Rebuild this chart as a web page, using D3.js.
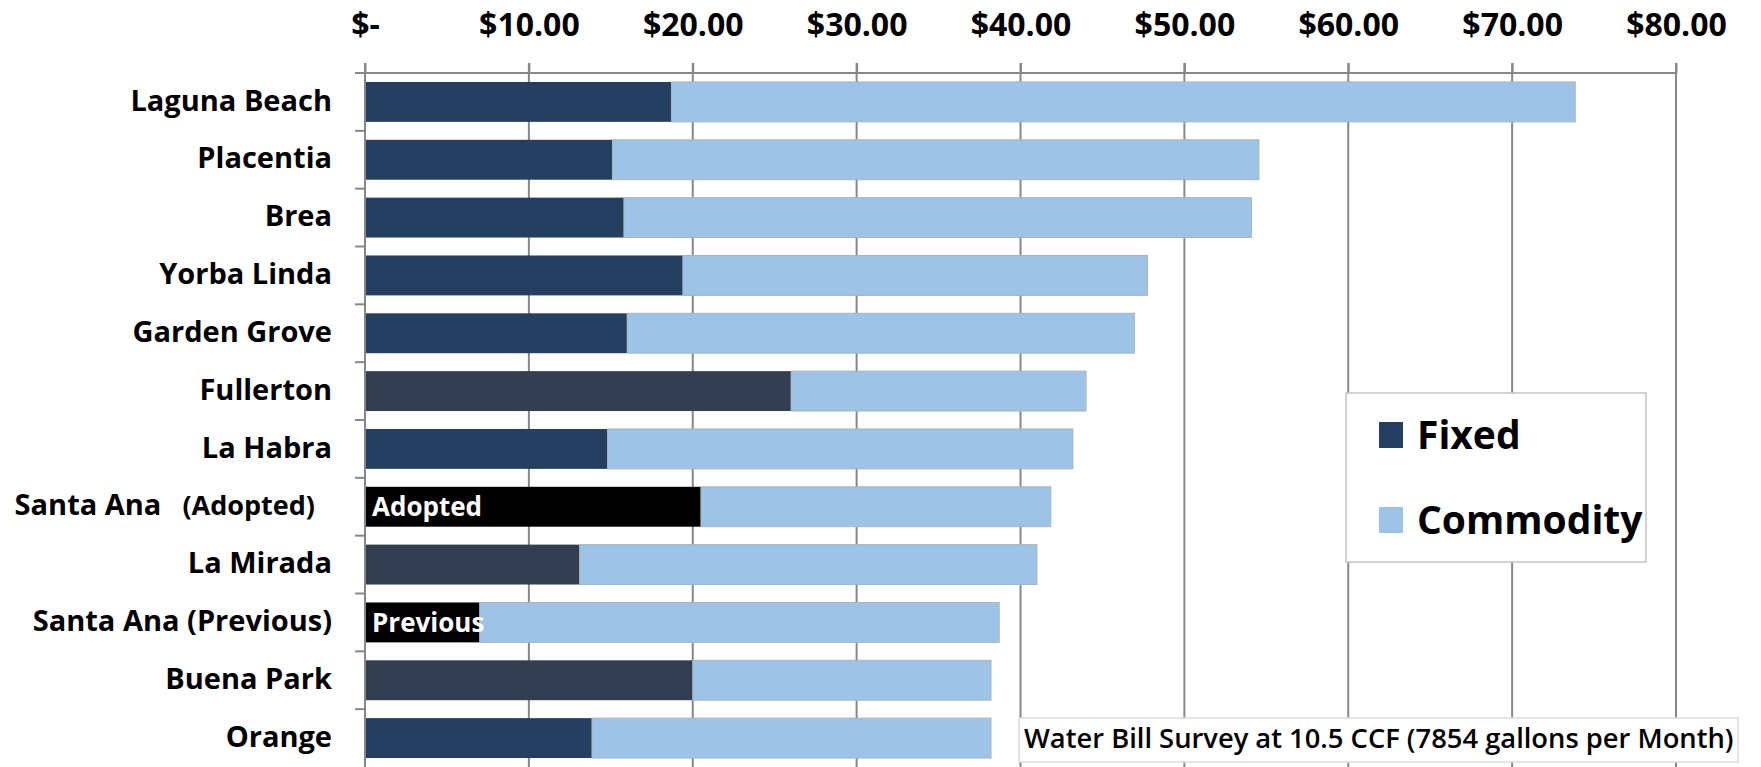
<!DOCTYPE html>
<html>
<head>
<meta charset="utf-8">
<script src="https://cdn.jsdelivr.net/npm/d3@7"></script>
<style>
  body { margin: 0; background: #fff; }
  text { font-family: "Open Sans", sans-serif; }
</style>
</head>
<body>
<script>
var categories = ["Laguna Beach", "Placentia", "Brea", "Yorba Linda", "Garden Grove", "Fullerton",
                  "La Habra", "Santa Ana (Adopted)", "La Mirada", "Santa Ana (Previous)", "Buena Park", "Orange"];
var fixedCharge = [18.7, 15.1, 15.8, 19.4, 16.0, 26.0, 14.8, 20.5, 13.1, 7.0, 20.0, 13.85];
var commodityCharge = [55.15, 39.45, 38.3, 28.35, 30.95, 18.0, 28.4, 21.35, 27.9, 31.7, 18.2, 24.35];
var tickValues = [0, 10, 20, 30, 40, 50, 60, 70, 80];
var tickLabels = ["$-", "$10.00", "$20.00", "$30.00", "$40.00", "$50.00", "$60.00", "$70.00", "$80.00"];
var seriesNames = ["Fixed", "Commodity"];
var barNotes = { "Santa Ana (Adopted)": "Adopted", "Santa Ana (Previous)": "Previous" };
var footNote = "Water Bill Survey at 10.5 CCF (7854 gallons per Month)";

(function() {
    var w = 1761, h = 767;
    var mLeft = 365, mRight = 1676, mTop = 73, mBottom = 767;

    var navy = "#243f60", slate = "#333f50", lightBlue = "#9dc3e6", gridGrey = "#878787";
    var slateCities = ["Fullerton", "La Mirada", "Buena Park"];

    function fixedColor(c) {
        if (barNotes[c]) { return "#000"; }
        if (slateCities.indexOf(c) >= 0) { return slate; }
        return navy;
    }

    var svg = d3.select("body").append("svg")
        .attr("width", w)
        .attr("height", h);

    var x = d3.scaleLinear().domain([0, 80]).range([mLeft, mRight]);
    var y = d3.scaleBand().domain(categories).range([mTop, mBottom])
        .paddingInner(0.31).paddingOuter(0.155);

    // vertical gridlines (behind bars)
    svg.selectAll("line.grid")
        .data(tickValues.slice(1))
        .enter().append("line")
        .attr("class", "grid")
        .attr("x1", function(d) { return x(d); })
        .attr("x2", function(d) { return x(d); })
        .attr("y1", mTop - 10)
        .attr("y2", mBottom)
        .attr("stroke", gridGrey)
        .attr("stroke-width", 2);

    var rows = categories.map(function(c, i) {
        return { name: c, fixed: fixedCharge[i], commodity: commodityCharge[i] };
    });

    // fixed part
    svg.selectAll("rect.fixed")
        .data(rows)
        .enter().append("rect")
        .attr("class", "fixed")
        .attr("x", x(0))
        .attr("y", function(d) { return y(d.name); })
        .attr("width", function(d) { return x(d.fixed) - x(0); })
        .attr("height", y.bandwidth())
        .attr("fill", function(d) { return fixedColor(d.name); });

    // commodity part stacked after fixed
    svg.selectAll("rect.commodity")
        .data(rows)
        .enter().append("rect")
        .attr("class", "commodity")
        .attr("x", function(d) { return x(d.fixed); })
        .attr("y", function(d) { return y(d.name); })
        .attr("width", function(d) { return x(d.fixed + d.commodity) - x(d.fixed); })
        .attr("height", y.bandwidth())
        .attr("fill", lightBlue)
        .attr("stroke", "#a8b4c0")
        .attr("stroke-width", 1);

    // notes inside the Santa Ana bars
    svg.selectAll("text.barnote")
        .data(rows.filter(function(d) { return barNotes[d.name]; }))
        .enter().append("text")
        .attr("class", "barnote")
        .attr("x", x(0) + 7)
        .attr("y", function(d) { return y(d.name) + y.bandwidth() / 2; })
        .attr("dy", "0.36em")
        .attr("fill", "#fff")
        .attr("font-size", 26)
        .attr("font-weight", 700)
        .text(function(d) { return barNotes[d.name]; });

    // top axis
    var xAxis = d3.axisTop(x)
        .tickValues(tickValues)
        .tickSize(10)
        .tickPadding(27)
        .tickFormat(function(d, i) { return tickLabels[i]; });

    var gx = svg.append("g")
        .attr("transform", "translate(0," + mTop + ")")
        .call(xAxis);
    gx.select(".domain").remove();
    gx.selectAll(".tick line").attr("stroke", gridGrey).attr("stroke-width", 2);
    gx.selectAll(".tick text")
        .attr("fill", "#000")
        .attr("font-size", 32)
        .attr("font-weight", 700)
        .style("font-family", "'Open Sans', sans-serif");

    svg.append("line")
        .attr("x1", mLeft - 10).attr("x2", mRight)
        .attr("y1", mTop).attr("y2", mTop)
        .attr("stroke", gridGrey).attr("stroke-width", 2);

    // left axis: ticks on category boundaries
    var step = y.step();
    var boundaries = categories.map(function(c) { return y(c) - step * y.paddingInner() / 2; });
    svg.selectAll("line.ytick")
        .data(boundaries)
        .enter().append("line")
        .attr("x1", mLeft - 10).attr("x2", mLeft)
        .attr("y1", function(d) { return d; })
        .attr("y2", function(d) { return d; })
        .attr("stroke", gridGrey).attr("stroke-width", 2);

    svg.append("line")
        .attr("x1", mLeft).attr("x2", mLeft)
        .attr("y1", mTop - 10).attr("y2", mBottom)
        .attr("stroke", gridGrey).attr("stroke-width", 2);

    // category labels
    var labels = svg.selectAll("text.cat")
        .data(categories)
        .enter().append("text")
        .attr("class", "cat")
        .attr("text-anchor", "end")
        .attr("x", function(d) { return d === "Santa Ana (Adopted)" ? mLeft - 50 : mLeft - 33; })
        .attr("y", function(d) { return y(d) + y.bandwidth() / 2; })
        .attr("dy", "0.3em")
        .attr("font-size", 29)
        .attr("font-weight", 700)
        .attr("fill", "#000");

    labels.each(function(d) {
        var t = d3.select(this);
        var k = d.indexOf("(");
        if (k < 0) { t.text(d); return; }
        t.append("tspan").text(d.slice(0, k - 1));
        t.append("tspan")
            .attr("font-size", d === "Santa Ana (Adopted)" ? 27 : 29)
            .text((d === "Santa Ana (Adopted)" ? "\u00a0\u00a0\u00a0" : "\u00a0") + d.slice(k));
    });

    // legend
    var legend = svg.append("g").attr("transform", "translate(1346,393)");
    legend.append("rect")
        .attr("width", 300).attr("height", 169)
        .attr("fill", "#fff").attr("stroke", "#c4c4c4").attr("stroke-width", 1.5);
    var legendColors = [navy, lightBlue];
    var item = legend.selectAll("g.item")
        .data(seriesNames)
        .enter().append("g")
        .attr("class", "item")
        .attr("transform", function(d, i) { return "translate(33," + (42 + i * 85) + ")"; });
    item.append("rect")
        .attr("y", -13).attr("width", 24).attr("height", 26)
        .attr("fill", function(d, i) { return legendColors[i]; });
    item.append("text")
        .attr("x", 38).attr("dy", "0.36em")
        .attr("font-size", 39).attr("font-weight", 700).attr("fill", "#000")
        .text(function(d) { return d; });

    // survey note
    var note = svg.append("g").attr("transform", "translate(1019,718)");
    note.append("rect")
        .attr("width", 719).attr("height", 44)
        .attr("fill", "#fff").attr("stroke", "#dcdcdc").attr("stroke-width", 1.5);
    var noteText = note.append("text")
        .attr("x", 5).attr("y", 30)
        .attr("font-size", 26).attr("font-weight", 600).attr("fill", "#000")
        .text(footNote);
    var len = noteText.node().getComputedTextLength();
    noteText.attr("font-size", 26 * 710 / len);
})();
</script>
</body>
</html>
